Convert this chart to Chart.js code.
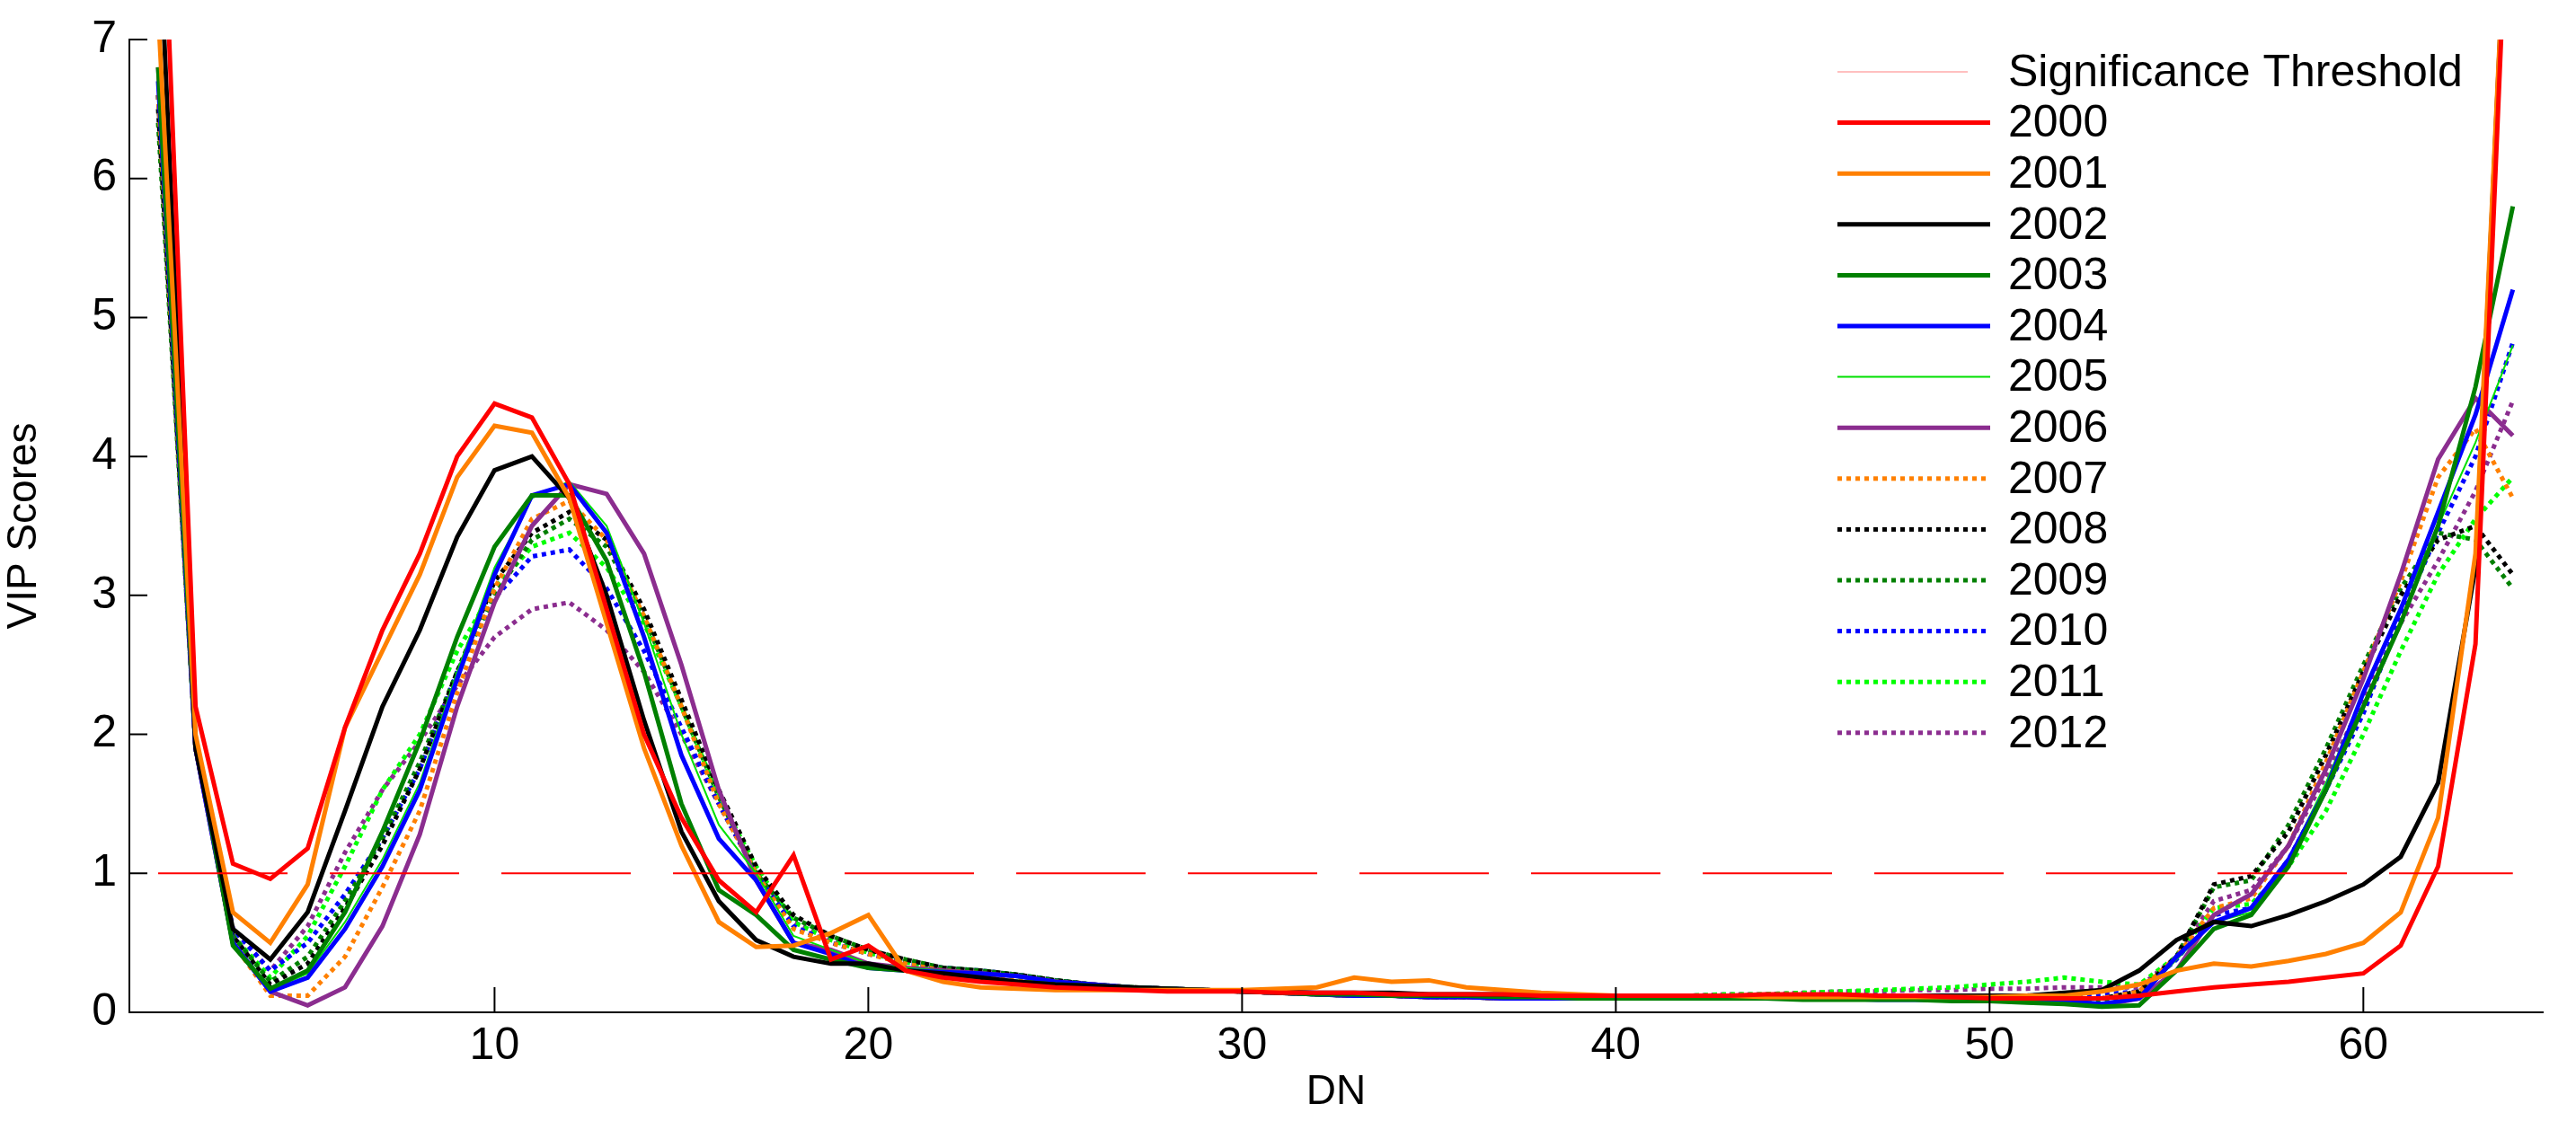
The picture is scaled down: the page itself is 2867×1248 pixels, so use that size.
<!DOCTYPE html>
<html><head><meta charset="utf-8">
<script src="https://cdn.jsdelivr.net/npm/chart.js@4.4.0/dist/chart.umd.min.js"></script>
<style>html,body{margin:0;padding:0;background:#fff}#wrap{width:2867px;height:1248px}</style>
</head><body><div id="wrap"><canvas id="myChart"></canvas></div>
<script>
var dn = [];
for (var i = 1; i <= 64; i++) dn.push(i);
var xTicks = [10, 20, 30, 40, 50, 60];
var yTicks = [0, 1, 2, 3, 4, 5, 6, 7];
var threshold = 1;

var v2000 = [9.0,2.2,1.07,0.96,1.18,2.05,2.75,3.3,4.0,4.38,4.28,3.8,2.9,2.0,1.4,0.95,0.72,1.13,0.38,0.48,0.3,0.25,0.22,0.2,0.18,0.17,0.16,0.15,0.15,0.15,0.14,0.14,0.14,0.13,0.13,0.13,0.13,0.12,0.12,0.12,0.12,0.12,0.12,0.13,0.13,0.13,0.12,0.12,0.11,0.1,0.1,0.1,0.1,0.12,0.15,0.18,0.2,0.22,0.25,0.28,0.48,1.05,2.65,9.0];
var v2001 = [7.2,2.0,0.72,0.5,0.92,2.05,2.6,3.15,3.85,4.22,4.17,3.7,2.8,1.9,1.2,0.65,0.47,0.48,0.57,0.7,0.3,0.22,0.18,0.17,0.16,0.16,0.16,0.16,0.16,0.16,0.17,0.18,0.25,0.22,0.23,0.18,0.16,0.14,0.13,0.12,0.12,0.12,0.12,0.11,0.11,0.11,0.11,0.11,0.11,0.11,0.12,0.12,0.15,0.2,0.3,0.35,0.33,0.37,0.42,0.5,0.72,1.4,3.3,9.0];
var v2002 = [8.0,1.9,0.6,0.38,0.72,1.45,2.2,2.75,3.42,3.9,4.0,3.7,3.0,2.1,1.3,0.8,0.52,0.4,0.35,0.35,0.3,0.28,0.25,0.22,0.2,0.19,0.18,0.17,0.16,0.15,0.15,0.14,0.14,0.14,0.13,0.13,0.13,0.12,0.12,0.12,0.12,0.12,0.12,0.12,0.12,0.12,0.12,0.12,0.12,0.12,0.12,0.14,0.16,0.3,0.52,0.65,0.62,0.7,0.8,0.92,1.12,1.65,3.2,9.0];
var v2003 = [6.8,1.95,0.48,0.17,0.3,0.72,1.3,1.95,2.7,3.35,3.72,3.72,3.25,2.45,1.5,0.88,0.7,0.45,0.38,0.32,0.3,0.27,0.24,0.22,0.2,0.19,0.18,0.17,0.16,0.15,0.14,0.13,0.13,0.12,0.12,0.12,0.11,0.11,0.1,0.1,0.1,0.1,0.1,0.1,0.09,0.09,0.09,0.09,0.08,0.08,0.07,0.06,0.04,0.05,0.3,0.6,0.7,1.05,1.6,2.2,2.8,3.5,4.5,5.8];
var v2004 = [6.7,1.9,0.5,0.15,0.25,0.6,1.05,1.6,2.4,3.15,3.72,3.8,3.45,2.7,1.85,1.25,0.95,0.5,0.42,0.32,0.3,0.29,0.28,0.26,0.22,0.2,0.18,0.17,0.16,0.15,0.14,0.13,0.12,0.12,0.11,0.11,0.1,0.1,0.1,0.1,0.1,0.1,0.1,0.1,0.1,0.1,0.09,0.09,0.09,0.09,0.08,0.08,0.06,0.1,0.4,0.65,0.75,1.1,1.6,2.3,2.9,3.6,4.3,5.2];
var v2005 = [6.7,1.9,0.5,0.16,0.28,0.65,1.1,1.65,2.45,3.2,3.7,3.82,3.5,2.8,2.0,1.35,1.0,0.55,0.45,0.35,0.32,0.3,0.28,0.25,0.22,0.2,0.18,0.17,0.16,0.15,0.14,0.13,0.12,0.12,0.11,0.11,0.1,0.1,0.1,0.1,0.1,0.1,0.1,0.1,0.1,0.1,0.1,0.1,0.09,0.09,0.09,0.08,0.07,0.1,0.38,0.65,0.72,1.1,1.65,2.3,2.9,3.5,4.1,4.8];
var v2006 = [6.8,1.9,0.5,0.15,0.05,0.18,0.62,1.28,2.2,2.95,3.5,3.8,3.73,3.3,2.5,1.6,0.95,0.5,0.45,0.35,0.32,0.3,0.28,0.26,0.22,0.2,0.18,0.17,0.16,0.15,0.14,0.13,0.12,0.12,0.11,0.11,0.1,0.1,0.1,0.1,0.1,0.1,0.1,0.1,0.1,0.1,0.1,0.1,0.1,0.1,0.09,0.08,0.05,0.1,0.3,0.7,0.85,1.2,1.75,2.4,3.15,3.98,4.42,4.15];
var v2007 = [6.6,1.9,0.5,0.12,0.12,0.4,0.9,1.45,2.3,3.05,3.55,3.68,3.4,2.85,2.2,1.5,1.0,0.6,0.5,0.42,0.35,0.3,0.28,0.25,0.22,0.2,0.18,0.17,0.16,0.15,0.14,0.13,0.12,0.12,0.11,0.11,0.1,0.1,0.1,0.1,0.1,0.1,0.1,0.1,0.1,0.1,0.1,0.1,0.1,0.1,0.1,0.1,0.1,0.15,0.4,0.75,0.82,1.2,1.8,2.45,3.1,3.85,4.2,3.7];
var v2008 = [6.5,1.9,0.55,0.2,0.35,0.75,1.2,1.75,2.45,3.1,3.45,3.6,3.4,2.9,2.25,1.6,1.05,0.7,0.55,0.45,0.38,0.32,0.3,0.27,0.23,0.2,0.18,0.17,0.16,0.15,0.14,0.13,0.12,0.12,0.11,0.11,0.1,0.1,0.1,0.1,0.1,0.1,0.1,0.1,0.1,0.1,0.1,0.1,0.1,0.1,0.1,0.1,0.1,0.15,0.4,0.92,0.98,1.3,1.85,2.45,3.0,3.4,3.5,3.15];
var v2009 = [6.4,1.9,0.55,0.22,0.4,0.8,1.25,1.8,2.45,3.0,3.4,3.55,3.35,2.85,2.2,1.55,1.0,0.68,0.55,0.45,0.38,0.32,0.3,0.27,0.23,0.2,0.18,0.17,0.16,0.15,0.14,0.13,0.12,0.12,0.11,0.11,0.1,0.1,0.1,0.1,0.1,0.1,0.1,0.1,0.1,0.1,0.1,0.1,0.1,0.1,0.1,0.1,0.08,0.12,0.4,0.9,0.95,1.35,1.9,2.5,3.05,3.45,3.4,3.05];
var v2010 = [6.6,1.9,0.6,0.3,0.5,0.85,1.25,1.75,2.45,2.98,3.28,3.33,3.05,2.6,2.05,1.5,1.0,0.62,0.5,0.42,0.36,0.32,0.3,0.27,0.23,0.2,0.18,0.17,0.16,0.15,0.14,0.13,0.12,0.12,0.11,0.11,0.1,0.1,0.1,0.1,0.1,0.1,0.1,0.1,0.1,0.1,0.11,0.11,0.12,0.12,0.12,0.13,0.13,0.15,0.38,0.7,0.75,1.1,1.6,2.15,2.85,3.45,4.0,4.82];
var v2011 = [6.6,1.9,0.55,0.25,0.55,1.05,1.6,2.0,2.6,3.05,3.35,3.45,3.2,2.8,2.2,1.55,1.05,0.65,0.52,0.43,0.36,0.32,0.3,0.27,0.23,0.2,0.18,0.17,0.16,0.15,0.14,0.13,0.12,0.12,0.11,0.11,0.11,0.11,0.11,0.12,0.12,0.12,0.13,0.13,0.14,0.15,0.16,0.17,0.18,0.2,0.22,0.25,0.22,0.2,0.4,0.75,0.78,1.05,1.45,2.0,2.6,3.15,3.55,3.85];
var v2012 = [6.6,1.9,0.6,0.3,0.62,1.15,1.6,1.95,2.35,2.7,2.9,2.95,2.75,2.45,2.0,1.5,1.0,0.65,0.52,0.43,0.36,0.32,0.3,0.27,0.23,0.2,0.18,0.17,0.16,0.15,0.14,0.13,0.12,0.12,0.11,0.11,0.11,0.11,0.11,0.12,0.12,0.12,0.13,0.13,0.14,0.15,0.15,0.16,0.16,0.17,0.17,0.18,0.18,0.18,0.4,0.8,0.88,1.2,1.7,2.25,2.8,3.25,3.75,4.4];

var dot = [5, 5];
var series = [
  {label: 'Significance Threshold', data: dn.map(function(){return threshold;}), color: '#ff0000', width: 2, dash: [144, 47]},
  {label: '2000', data: v2000, color: '#ff0000', width: 5, dash: []},
  {label: '2001', data: v2001, color: '#ff8000', width: 5, dash: []},
  {label: '2002', data: v2002, color: '#000000', width: 5, dash: []},
  {label: '2003', data: v2003, color: '#008000', width: 5, dash: []},
  {label: '2004', data: v2004, color: '#0000ff', width: 5, dash: []},
  {label: '2005', data: v2005, color: '#00e000', width: 2, dash: []},
  {label: '2006', data: v2006, color: '#8b2d8f', width: 5, dash: []},
  {label: '2007', data: v2007, color: '#ff8000', width: 5, dash: dot},
  {label: '2008', data: v2008, color: '#000000', width: 5, dash: dot},
  {label: '2009', data: v2009, color: '#008000', width: 5, dash: dot},
  {label: '2010', data: v2010, color: '#0000ff', width: 5, dash: dot},
  {label: '2011', data: v2011, color: '#00ff00', width: 5, dash: dot},
  {label: '2012', data: v2012, color: '#8b2d8f', width: 5, dash: dot}
];

var font = 'Liberation Sans, Arial, sans-serif';

var extras = {
  id: 'extras',
  afterDraw: function(chart) {
    var c = chart.ctx, xs = chart.scales.x, ys = chart.scales.y, a = chart.chartArea;
    c.save();
    c.strokeStyle = '#000'; c.lineWidth = 2; c.setLineDash([]);
    c.beginPath();
    xTicks.forEach(function(t){ var p = xs.getPixelForValue(t); c.moveTo(p, a.bottom); c.lineTo(p, a.bottom - 28); });
    yTicks.forEach(function(t){ var p = ys.getPixelForValue(t); c.moveTo(a.left, p); c.lineTo(a.left + 20, p); });
    c.stroke();
    // legend
    c.font = '50px ' + font; c.textBaseline = 'middle'; c.fillStyle = '#000';
    series.forEach(function(s, i) {
      var y = 80 + i * 56.6;
      c.strokeStyle = i === 0 ? '#ff8080' : s.color;
      c.lineWidth = i === 0 ? 1 : s.width;
      c.setLineDash(i === 0 ? [] : s.dash);
      c.beginPath(); c.moveTo(2045, y); c.lineTo(i === 0 ? 2190 : 2215, y); c.stroke();
      c.fillText(s.label, 2235, y + 2);
    });
    c.restore();
  }
};

new Chart(document.getElementById('myChart'), {
  type: 'line',
  data: {
    labels: dn,
    datasets: series.map(function(s){
      return {label: s.label, data: s.data.map(function(v, i){ return {x: dn[i], y: v}; }),
        borderColor: s.color, borderWidth: s.width, borderDash: s.dash,
        pointRadius: 0, tension: 0, fill: false};
    })
  },
  options: {
    responsive: true, maintainAspectRatio: false, animation: false,
    layout: {padding: {top: 42, right: 37, left: 0, bottom: 0}},
    plugins: {legend: {display: false}, tooltip: {enabled: false}},
    scales: {
      x: {
        type: 'linear', min: 0.23, max: 64.8,
        afterBuildTicks: function(s){ s.ticks = xTicks.map(function(v){return {value: v};}); },
        afterFit: function(s){ s.height = 121; },
        grid: {display: false, drawTicks: false},
        border: {color: '#000', width: 2},
        ticks: {color: '#000', font: {size: 50, family: font}, padding: 8, maxRotation: 0},
        title: {display: true, text: 'DN', color: '#000', font: {size: 46, family: font}, padding: {top: 0, bottom: 4}}
      },
      y: {
        min: 0, max: 7,
        afterBuildTicks: function(s){ s.ticks = yTicks.map(function(v){return {value: v};}); },
        afterFit: function(s){ s.width = 144; },
        grid: {display: false, drawTicks: false},
        border: {color: '#000', width: 2},
        ticks: {color: '#000', font: {size: 50, family: font}, padding: 14},
        title: {display: true, text: 'VIP Scores', color: '#000', font: {size: 46, family: font}, padding: {top: 0, bottom: 4}}
      }
    }
  },
  plugins: [extras]
});
</script>
</body></html>
